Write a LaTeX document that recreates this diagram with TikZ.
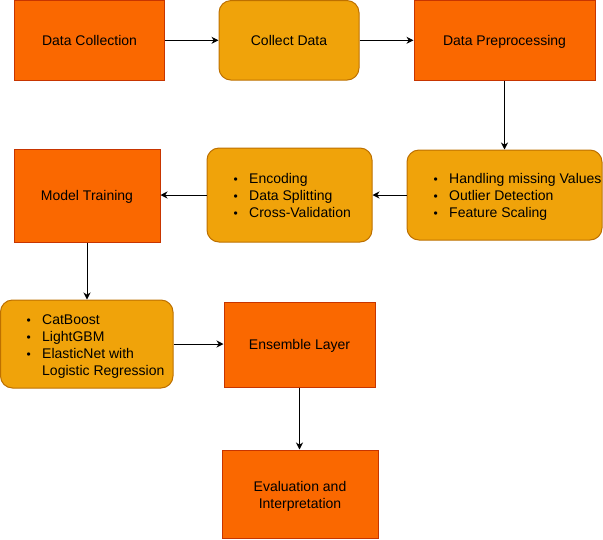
\documentclass[tikz,border=0pt]{standalone}
\usepackage{fontspec}
\setmainfont{Liberation Sans}
\usetikzlibrary{arrows.meta}
\definecolor{orfill}{HTML}{FA6800}
\definecolor{ordraw}{HTML}{C73500}
\definecolor{yefill}{HTML}{F0A30A}
\definecolor{yedraw}{HTML}{BD7000}
\newcommand{\mystrut}{\rule[-3pt]{0pt}{15.7pt}}
\newcommand{\blt}{\mystrut\makebox[15.5pt][l]{\raisebox{0.6pt}{\fontsize{12}{12}\selectfont •}}}
\tikzset{
  obox/.style={draw=ordraw, fill=orfill, line width=1pt, align=center, inner sep=0pt},
  ybox/.style={draw=yedraw, fill=yefill, line width=1pt, rounded corners=12pt, inner sep=0pt},
  btxt/.style={anchor=west, align=left, inner sep=0pt},
  conn/.style={draw=black, line width=1pt, -{Stealth[length=7pt,width=7pt,inset=2.2pt]}},
  every node/.style={font=\fontsize{14}{17}\selectfont, text=black}
}
\begin{document}
\begin{tikzpicture}[x=1pt,y=-1pt]
\useasboundingbox (0,0) rectangle (603,539);
% row 1
\node[obox, minimum width=150.4pt, minimum height=79.5pt] (dc) at (89.5,40.3) {\mystrut Data Collection};
\node[ybox, minimum width=140pt, minimum height=79.5pt] (cd) at (289,40.3) {\mystrut Collect Data};
\node[obox, minimum width=181pt, minimum height=79.5pt] (dp) at (504.5,40.3) {\mystrut Data Preprocessing};
% row 2
\node[ybox, minimum width=195pt, minimum height=90pt] (hm) at (504.5,195) {};
\node[btxt] (hmt) at (433.5,196) {\blt Handling missing Values\\ \blt Outlier Detection\\ \blt Feature Scaling};
\node[ybox, minimum width=165pt, minimum height=94pt] (en) at (289.5,195) {};
\node[btxt] (ent) at (233.5,196) {\blt Encoding\\ \blt Data Splitting\\ \blt Cross-Validation};
\node[obox, minimum width=146pt, minimum height=93pt] (mt) at (87,195.5) {\mystrut Model Training};
% row 3
\node[ybox, minimum width=172.5pt, minimum height=88pt] (cb) at (86.75,344) {};
\node[btxt] (cbt) at (26.5,345.5) {\blt CatBoost\\ \blt LightGBM\\ \blt ElasticNet with\\ \mystrut\hspace*{15.5pt}Logistic Regression};
\node[obox, minimum width=151pt, minimum height=85pt] (el) at (299.5,344.5) {\mystrut Ensemble Layer};
% row 4
\node[obox, minimum width=156pt, minimum height=88pt] (ev) at (300,494) {};
\node[align=center, inner sep=0pt] (evt) at (300,495) {\mystrut Evaluation and\\\mystrut Interpretation};
% connectors
\draw[conn] (dc.east) -- (cd.west);
\draw[conn] (cd.east) -- (dp.west);
\draw[conn] (dp.south) -- (hm.north);
\draw[conn] (hm.west) -- (en.east);
\draw[conn] (en.west) -- (en.west -| mt.east);
\draw[conn] (mt.south) -- (mt.south |- cb.north);
\draw[conn] (cb.east) -- (cb.east -| el.west);
\draw[conn] (el.south) -- (el.south |- ev.north);
\end{tikzpicture}
\end{document}
